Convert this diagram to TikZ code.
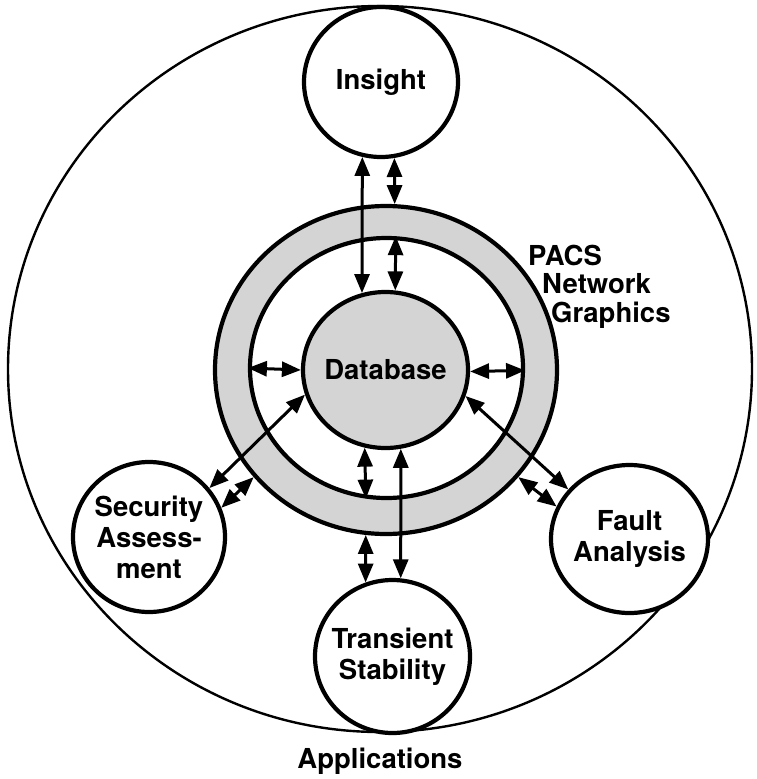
\documentclass[tikz,border=0pt]{standalone}
\usepackage{fontspec}
\setmainfont{TeX Gyre Heros}
\usepackage{tikz}
\usetikzlibrary{arrows.meta,positioning,shapes.geometric}
\definecolor{ink}{RGB}{0,0,0}
\definecolor{stipple}{RGB}{212,212,212}
\tikzset{
  link/.style={{Triangle[length=19pt,width=15pt]}-{Triangle[length=19pt,width=15pt]},line width=3pt,draw=ink},
  disc/.style={ellipse,draw=ink,line width=4.2pt,fill=white,inner sep=0pt},
  shade/.style={ellipse,draw=ink,line width=4.2pt,fill=stipple,inner sep=0pt},
  rim/.style={ellipse,draw=ink,line width=2.4pt,inner sep=0pt},
  word/.style={font=\bfseries\fontsize{27.5}{31}\selectfont,align=center,inner sep=0pt}
}
\begin{document}
\begin{tikzpicture}[x=1pt,y=-1pt]
  \useasboundingbox (0,0) rectangle (757,779);
  \node[rim,minimum width=744pt,minimum height=726pt] (apps) at (380,369) {};
  \node[word,below=15pt of apps] (appslbl) {Applications};
  \node[shade,minimum width=342pt,minimum height=328pt] (pacs) at (386,370) {};
  \node[disc,minimum width=273pt,minimum height=260pt] (pacsin) at (386.5,368) {};
  \node[shade,minimum width=165pt,minimum height=156pt,label={[word]center:Database}] (db) at (385.5,370) {};
  \node[disc,minimum width=154pt,minimum height=150pt,label={[word]center:Insight}] (ins) at (381,82) {};
  \node[disc,minimum width=152pt,minimum height=150pt,label={[word]center:Security\\Assess-\\ment}] (sec) at (149,537) {};
  \node[disc,minimum width=157pt,minimum height=148pt,label={[word]center:Fault\\Analysis}] (fa) at (629.5,539) {};
  \node[disc,minimum width=155pt,minimum height=153pt,label={[word]center:Transient\\Stability}] (ts) at (392.5,656.5) {};
  \node[word,anchor=base west] (pacsA) at (528,265) {PACS};
  \node[word,anchor=base west] (pacsB) at (542,293) {Network};
  \node[word,anchor=base west] (pacsC) at (551,322) {Graphics};
  \draw[link] (ins.-104.6) -- (db.107.4); \draw[link] (ins.-80.8) -- (pacs.87.6);
  \draw[link] (pacsin.86.3) -- (db.83); \draw[link] (pacsin.180.5) -- (db.180); \draw[link] (db.-1) -- (pacsin.-1.5); \draw[link] (db.-105.2) -- (pacsin.-99.5);
  \draw[link] (db.-79.3) -- (ts.84.4); \draw[link] (pacs.-97) -- (ts.110.2);
  \draw[link] (db.-163.1) -- (sec.39.7); \draw[link] (pacs.-141.9) -- (sec.22.9);
  \draw[link] (db.-18.7) -- (fa.141.7); \draw[link] (pacs.-39) -- (fa.156.8);
\end{tikzpicture}
\end{document}
